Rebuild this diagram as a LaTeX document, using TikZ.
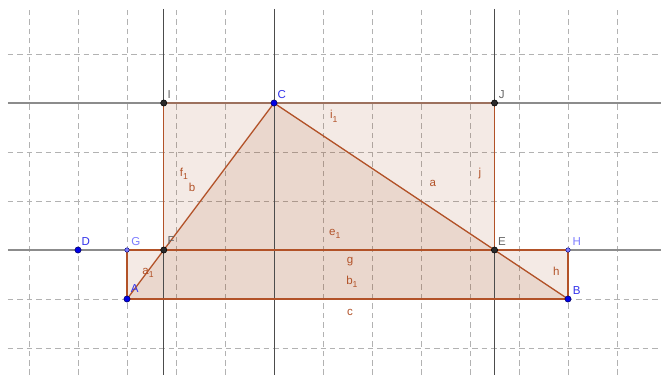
\documentclass[tikz,border=0pt]{standalone}
\usepackage{fontspec}
\setmainfont{Liberation Sans}
\definecolor{brn}{RGB}{153,51,0}
\definecolor{edgec}{RGB}{178,82,40}
\definecolor{ptblue}{RGB}{0,0,230}
\definecolor{ptlight}{RGB}{125,125,255}
\definecolor{ptdark}{RGB}{60,60,60}
\newcommand{\lsub}[1]{\raisebox{-0.55ex}{\fontsize{5}{5}\selectfont #1}}
\begin{document}
\begin{tikzpicture}[x=1cm,y=1cm,
  font=\fontsize{6.7}{7}\selectfont,
  gridline/.style={draw=black!30, line width=0.45pt, dash pattern=on 3.2pt off 2.3pt},
  hline/.style={draw=black!45, line width=1.2pt},
  vline/.style={draw=black!70, line width=0.55pt},
  poly/.style={fill=brn, fill opacity=0.10, draw=none},
  edge/.style={draw=edgec, line width=0.75pt},
  bluept/.style={circle, fill=ptblue, draw=blue!40!black, line width=0.3pt, inner sep=0pt, minimum size=3.6pt},
  lightpt/.style={circle, fill=ptlight, draw=blue!50!black, line width=0.25pt, inner sep=0pt, minimum size=2.6pt},
  darkpt/.style={circle, fill=ptdark!70!black, draw=black, line width=0.3pt, inner sep=0pt, minimum size=3.6pt},
  seglab/.style={text=edgec, inner sep=0pt},
  bluelab/.style={text=ptblue!80, inner sep=0pt},
  lightlab/.style={text=ptlight, inner sep=0pt},
  darklab/.style={text=black!60, inner sep=0pt}]
\useasboundingbox (-2.592,-1.551) rectangle (10.898,6.102);
\fill[white] (-2.592,-1.551) rectangle (10.898,6.102);

% grid
\foreach \x in {-2,...,10} \draw[gridline] (\x,-1.551) -- (\x,5.9);
\foreach \y in {-1,...,5} \draw[gridline] (-2.43,\y) -- (10.898,\y);

% points
\coordinate (A) at (0,0);
\coordinate (B) at (9,0);
\coordinate (C) at (3,4);
\coordinate (D) at (-1,1);
\coordinate (G) at (0,1);
\coordinate (H) at (9,1);
\coordinate (F) at (0.75,1);
\coordinate (E) at (7.5,1);
\coordinate (I) at (0.75,4);
\coordinate (J) at (7.5,4);
% line ends
\coordinate (L1) at (-2.43,1);   \coordinate (R1) at (10.898,1);
\coordinate (L4) at (-2.43,4);   \coordinate (R4) at (10.898,4);
\coordinate (Ft) at (0.75,5.92); \coordinate (Fb) at (0.75,-1.551);
\coordinate (Ct) at (3,5.92);    \coordinate (Cb) at (3,-1.551);
\coordinate (Et) at (7.5,5.92);  \coordinate (Eb) at (7.5,-1.551);

% polygon fills
\fill[poly] (A) -- (B) -- (C) -- cycle;
\fill[poly] (F) -- (E) -- (J) -- (I) -- cycle;
\fill[poly] (A) -- (B) -- (H) -- (G) -- cycle;

% lines
\draw[vline] (Ft) -- (Fb);
\draw[vline] (Ct) -- (Cb);
\draw[vline] (Et) -- (Eb);
\draw[hline] (L1) -- (R1);
\draw[hline] (L4) -- (R4);

% polygon edges
\draw[edge] (A) -- (B);
\draw[edge] (B) -- (C);
\draw[edge] (C) -- (A);
\draw[edge, draw=brn!85!edgec, line width=1.25pt] (F) -- (E);
\draw[edge] (E) -- (J);
\draw[edge, draw opacity=0.45, line width=1.2pt] (J) -- (I);
\draw[edge] (I) -- (F);
\draw[edge] (B) -- (H);
\draw[edge] (H) -- (G);
\draw[edge] (G) -- (A);

% point marks
\node[bluept] (pA) at (A) {};
\node[bluept] (pB) at (B) {};
\node[bluept] (pC) at (C) {};
\node[bluept] (pD) at (D) {};
\node[lightpt] (pG) at (G) {};
\node[lightpt] (pH) at (H) {};
\node[darkpt] (pF) at (F) {};
\node[darkpt] (pE) at (E) {};
\node[darkpt] (pI) at (I) {};
\node[darkpt] (pJ) at (J) {};

% point labels
\node[bluelab] (lA) at (0.16,0.22) {A};
\node[bluelab] (lB) at (9.18,0.18) {B};
\node[bluelab] (lC) at (3.16,4.18) {C};
\node[bluelab] (lD) at (-0.84,1.17) {D};
\node[lightlab] (lG) at (0.18,1.17) {G};
\node[lightlab] (lH) at (9.18,1.17) {H};
\node[darklab] (lF) at (0.90,1.19) {F};
\node[darklab] (lE) at (7.65,1.17) {E};
\node[darklab] (lI) at (0.86,4.18) {I};
\node[darklab] (lJ) at (7.65,4.18) {J};

% segment labels
\node[seglab] (sf1) at (1.16,2.55) {f\lsub{1}};
\node[seglab] (sb) at (1.33,2.27) {b};
\node[seglab] (si1) at (4.22,3.73) {i\lsub{1}};
\node[seglab] (sa) at (6.24,2.35) {a};
\node[seglab] (sj) at (7.20,2.57) {j};
\node[seglab] (se1) at (4.24,1.33) {e\lsub{1}};
\node[seglab] (sg) at (4.55,0.76) {g};
\node[seglab] (sb1) at (4.59,0.35) {b\lsub{1}};
\node[seglab] (sc) at (4.55,-0.27) {c};
\node[seglab] (sh) at (8.76,0.57) {h};
\node[seglab] (sa1) at (0.43,0.53) {a\lsub{1}};
\end{tikzpicture}
\end{document}
